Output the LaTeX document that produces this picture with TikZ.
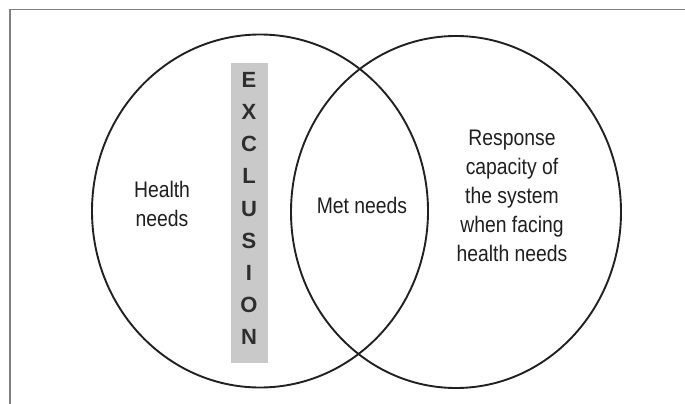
\documentclass[tikz,border=0pt]{standalone}
\usepackage{fontspec}
\setmainfont{Liberation Sans}
\newfontfamily\narrowsans[FakeStretch=0.86]{Liberation Sans}
\usetikzlibrary{shapes.geometric}
\definecolor{barfill}{gray}{0.79}
\definecolor{inkline}{gray}{0.13}
\definecolor{framegray}{gray}{0.5}
\begin{document}
\begin{tikzpicture}[
        x=1pt, y=-1pt,
        every node/.style = {inner sep=0pt, outer sep=0pt},
        venn/.style = {ellipse, draw=inkline, line width=1.9pt},
        tag/.style = {align=center, text=black!88,
            font=\narrowsans\fontsize{22.5}{29}\selectfont},
        bar/.style = {fill=barfill, minimum width=37, minimum height=300},
        barletters/.style = {align=center, text=black!82,
            font=\bfseries\fontsize{22}{32.1}\selectfont}
        ]
    \useasboundingbox (0,0) rectangle (685,404);
    % frame of the figure (cropped on the right and bottom)
    \draw[framegray, line width=1.4pt] (10,404) |- (685,9.5);
    % the two sets
    \node[venn, minimum width=336, minimum height=353] (needs) at (260,211) {};
    \node[venn, minimum width=330, minimum height=352] (capacity) at (456,212) {};
    % exclusion band
    \node[bar] (band) at (249.5,213) {};
    \node[barletters] (exclusion) at (249,208.5) {E\\X\\C\\L\\U\\S\\I\\O\\N};
    % labels
    \node[tag] (health) at (162,204) {Health\\needs};
    \node[tag] (met) at (362,205.5) {Met needs};
    \node[tag] (response) at (512,195.5) {Response\\capacity of\\the system\\when facing\\health needs};
\end{tikzpicture}
\end{document}
